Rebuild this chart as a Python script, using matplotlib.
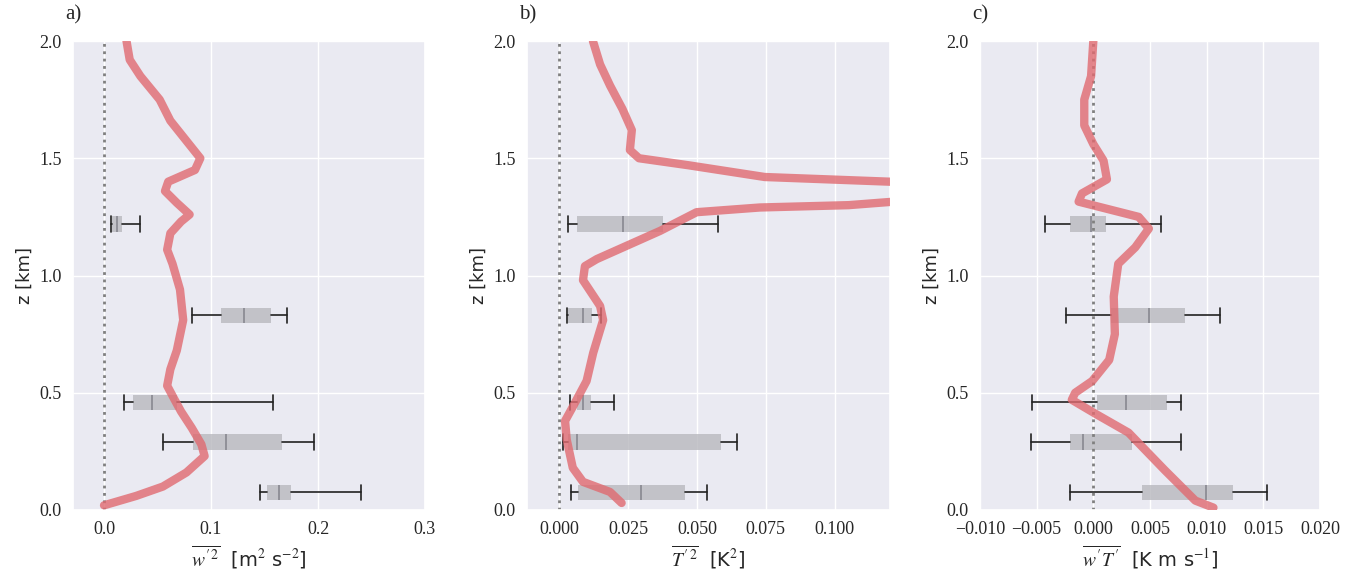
import numpy as np
import matplotlib.pyplot as plt
import seaborn as sns

sns.set_theme(style="darkgrid")
plt.rcParams['mathtext.fontset'] = 'stix'

# profiles
za = [0.02, 0.06, 0.10, 0.16, 0.23, 0.28, 0.35, 0.42, 0.47, 0.53, 0.60, 0.68, 0.81, 0.94, 1.05,
      1.11, 1.18, 1.23, 1.26, 1.31, 1.36, 1.40, 1.45, 1.50, 1.58, 1.66, 1.75, 1.85, 1.92, 2.0]
wa = [0.0, 0.03, 0.055, 0.077, 0.094, 0.091, 0.082, 0.072, 0.066, 0.059, 0.062, 0.068, 0.074, 0.071, 0.064,
      0.059, 0.062, 0.072, 0.080, 0.068, 0.057, 0.060, 0.085, 0.090, 0.076, 0.062, 0.052, 0.034, 0.024, 0.021]

zb = [0.03, 0.077, 0.12, 0.18, 0.30, 0.38, 0.44, 0.55, 0.67, 0.81, 0.87, 0.98, 1.04, 1.07, 1.19, 1.27,
      1.29, 1.30, 1.35, 1.40, 1.42, 1.47, 1.50, 1.535, 1.62, 1.71, 1.81, 1.90, 2.0]
tb = [0.0227, 0.0185, 0.0087, 0.005, 0.0028, 0.0022, 0.005, 0.010, 0.0124, 0.016, 0.0149, 0.0087, 0.0094,
      0.0137, 0.0366, 0.0499, 0.0728, 0.105, 0.16, 0.12, 0.0746, 0.047, 0.029, 0.0257, 0.0264, 0.023,
      0.0185, 0.0149, 0.0123]

zc = [0.01, 0.04, 0.17, 0.33, 0.41, 0.47, 0.50, 0.55, 0.64, 0.75, 0.91, 1.05, 1.12, 1.20, 1.25, 1.315,
      1.35, 1.41, 1.49, 1.56, 1.64, 1.75, 1.85, 2.0]
fc = [0.0106, 0.009, 0.0063, 0.0031, 0.0002, -0.0019, -0.0016, -0.0001, 0.0014, 0.0019, 0.0018, 0.0022,
      0.0037, 0.0049, 0.004, -0.0013, -0.001, 0.0012, 0.0009, 0.0, -0.0008, -0.0008, -0.0002, 0.0]

# box statistics: (whislo, q1, med, q3, whishi)
box_z = [0.075, 0.29, 0.46, 0.83, 1.22]
box_a = [(0.146, 0.152, 0.164, 0.175, 0.240), (0.055, 0.083, 0.114, 0.166, 0.196),
         (0.019, 0.027, 0.045, 0.068, 0.158), (0.082, 0.109, 0.131, 0.156, 0.171),
         (0.0065, 0.007, 0.012, 0.0165, 0.034)]
box_b = [(0.0043, 0.007, 0.0296, 0.0457, 0.0535), (0.0016, 0.0034, 0.0066, 0.0587, 0.0645),
         (0.004, 0.0066, 0.0086, 0.0116, 0.0198), (0.0028, 0.0034, 0.0088, 0.0118, 0.0152),
         (0.0031, 0.0066, 0.0233, 0.0378, 0.0576)]
box_c = [(-0.0021, 0.0043, 0.0099, 0.0123, 0.0153), (-0.0055, -0.0021, -0.0009, 0.0034, 0.0077),
         (-0.0054, 0.0003, 0.0029, 0.0065, 0.0077), (-0.0024, 0.0016, 0.0049, 0.0081, 0.0112),
         (-0.0043, -0.0021, -0.0002, 0.0011, 0.0060)]

fig = plt.figure(figsize=(13.63, 5.78), dpi=100)
W, H = 1363, 578
lefts = [73, 527, 980]
rights = [425, 890, 1320]
axes = [fig.add_axes([l / W, (578 - 510) / H, (r - l) / W, 469 / H]) for l, r in zip(lefts, rights)]

data = [(wa, za, box_a), (tb, zb, box_b), (fc, zc, box_c)]
xlims = [(-0.029, 0.3), (-0.0116, 0.12), (-0.01, 0.02)]
xticks = [[0.0, 0.1, 0.2, 0.3], [0.0, 0.025, 0.05, 0.075, 0.1], np.arange(-0.01, 0.0201, 0.005)]
fmts = ["{:.1f}", "{:.3f}", "{:.3f}"]
xlabels = [r"$\overline{w'^2}$  [m$^2$ s$^{-2}$]", r"$\overline{T'^2}$  [K$^2$]",
           r"$\overline{w'T'}$  [K m s$^{-1}$]"]
tags = ["a)", "b)", "c)"]

for i, ax in enumerate(axes):
    x, z, boxes = data[i]
    stats = [dict(whislo=b[0], q1=b[1], med=b[2], q3=b[3], whishi=b[4], fliers=[]) for b in boxes]
    ax.bxp(stats, positions=box_z, orientation='horizontal', widths=0.065, patch_artist=True,
           showfliers=False, capwidths=0.065,
           boxprops=dict(facecolor='#b8b8be', edgecolor='none', alpha=0.8),
           medianprops=dict(color='#888890', lw=1.2),
           whiskerprops=dict(color='#222222', lw=1.2),
           capprops=dict(color='#222222', lw=1.2))
    ax.plot(x, z, color='#e06a70', alpha=0.8, lw=6, solid_capstyle='round',
            solid_joinstyle='round', zorder=3)
    ax.axvline(0, color='gray', ls=':', lw=2, zorder=2)
    ax.set_xlim(*xlims[i])
    ax.set_ylim(0, 2)
    ax.set_xticks(xticks[i])
    ax.set_xticklabels([fmts[i].format(v).replace('-', '\u2212') for v in xticks[i]],
                       family='Liberation Serif', fontsize=13)
    ax.set_yticks([0, 0.5, 1.0, 1.5, 2.0])
    ax.set_yticklabels(["0.0", "0.5", "1.0", "1.5", "2.0"], family='Liberation Serif', fontsize=13)
    ax.set_xlabel(xlabels[i], fontsize=14)
    ax.set_ylabel("z [km]", fontsize=13)
    ax.tick_params(pad=2)
    fig.text((lefts[i] - 8) / W, 1 - 15 / H, tags[i], family='Liberation Serif', fontsize=15,
             va='center', ha='left')

fig.savefig("out.png", dpi=100)
